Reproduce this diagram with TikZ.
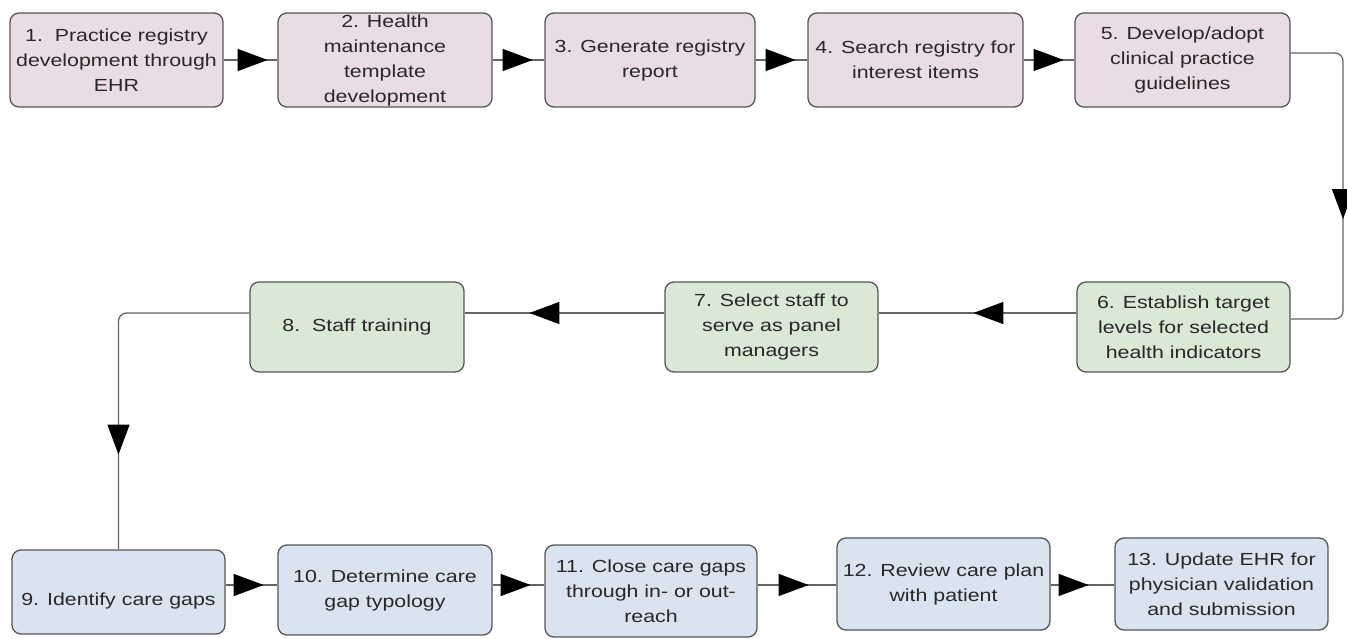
\documentclass[tikz,border=0pt]{standalone}
\usepackage{fontspec}
\setmainfont[FakeStretch=1.22]{Liberation Sans}
\usetikzlibrary{arrows.meta,decorations.markings}

\definecolor{pinkfill}{RGB}{234,220,228}
\definecolor{greenfill}{RGB}{218,232,214}
\definecolor{bluefill}{RGB}{218,228,241}
\definecolor{boxline}{RGB}{85,85,85}
\definecolor{linecol}{RGB}{100,100,100}
\definecolor{txt}{RGB}{40,40,40}

\tikzset{
  box/.style={draw=boxline, line width=1.3pt, rounded corners=9pt, align=center,
    inner sep=0pt, text=txt, font=\fontsize{17.5}{25}\selectfont},
  pinkbox/.style={box, fill=pinkfill},
  greenbox/.style={box, fill=greenfill},
  bluebox/.style={box, fill=bluefill},
  % taller first line pushes the text block a little lower in its box
  textdrop/.style={execute at begin node={\rule{0pt}{#1}}},
  link/.style={draw=linecol, line width=1.3pt},
  tipat/.style={postaction={decorate, decoration={markings,
    mark=at position #1 with {\arrow{Triangle[length=30pt,width=22pt,color=black]}}}}},
}

\begin{document}
\begin{tikzpicture}[x=1pt,y=-1pt]
\useasboundingbox (0,0) rectangle (1347,639);

% first row: registry set-up
\node[pinkbox, textdrop=18.8pt, minimum width=213pt, minimum height=94pt] (b1) at (116.5,60)
  {1.\ \ Practice registry\\development through\\EHR};
\node[pinkbox, minimum width=214pt, minimum height=94pt] (b2) at (385,60)
  {2. Health\\maintenance\\template\\development};
\node[pinkbox, textdrop=18.8pt, minimum width=210pt, minimum height=94pt] (b3) at (650,60)
  {3. Generate registry\\report};
\node[pinkbox, textdrop=18.8pt, minimum width=215pt, minimum height=94pt] (b4) at (915.5,60)
  {4. Search registry for\\interest items};
\node[pinkbox, textdrop=18.8pt, minimum width=215pt, minimum height=94pt] (b5) at (1182.5,60)
  {5. Develop/adopt\\clinical practice\\guidelines};

% second row: targets and staff
\node[greenbox, minimum width=213pt, minimum height=90pt] (b6) at (1183.5,327)
  {6. Establish target\\levels for selected\\health indicators};
\node[greenbox, minimum width=213pt, minimum height=90pt] (b7) at (771.5,327)
  {7. Select staff to\\serve as panel\\managers};
\node[greenbox, minimum width=214pt, minimum height=90pt] (b8) at (357,327)
  {8.\ \ Staff training};

% third row: care gaps
\node[bluebox, textdrop=31pt, minimum width=213pt, minimum height=84pt] (b9) at (118.5,592)
  {9. Identify care gaps};
\node[bluebox, textdrop=23pt, minimum width=214pt, minimum height=90pt] (b10) at (385,590)
  {10. Determine care\\gap typology};
\node[bluebox, textdrop=19pt, minimum width=212pt, minimum height=92pt] (b11) at (651,591)
  {11. Close care gaps\\through in- or out-\\reach};
\node[bluebox, minimum width=213pt, minimum height=92pt] (b12) at (943.5,584)
  {12. Review care plan\\with patient};
\node[bluebox, minimum width=213pt, minimum height=92pt] (b13) at (1221.5,584)
  {13. Update EHR for\\physician validation\\and submission};

% helper coordinates for connector levels
\coordinate (r2) at (0,313);
\coordinate (r3) at (0,585);
\coordinate (rx) at (1343,0);
\coordinate (c5) at ([yshift=7pt]b5.east);
\coordinate (c6) at ([yshift=8pt]b6.east);

% connectors
\draw[link, tipat=44pt] (b1.east) -- (b2.west);
\draw[link, tipat=40pt] (b2.east) -- (b3.west);
\draw[link, tipat=40pt] (b3.east) -- (b4.west);
\draw[link, tipat=40pt] (b4.east) -- (b5.west);
\draw[link, rounded corners=8pt, tipat=215pt] (c5) -- (c5 -| rx) -- (c6 -| rx) -- (c6);
\draw[link, tipat=103pt] (b6.west |- r2) -- (b7.east |- r2);
\draw[link, tipat=135pt] (b7.west |- r2) -- (b8.east |- r2);
\draw[link, rounded corners=8pt, tipat=269pt] (b8.west |- r2) -| (b9.north);
\draw[link, tipat=38pt] (b9.east |- r3) -- (b10.west |- r3);
\draw[link, tipat=38pt] (b10.east |- r3) -- (b11.west |- r3);
\draw[link, tipat=51pt] (b11.east |- r3) -- (b12.west |- r3);
\draw[link, tipat=38pt] (b12.east |- r3) -- (b13.west |- r3);
\end{tikzpicture}
\end{document}
